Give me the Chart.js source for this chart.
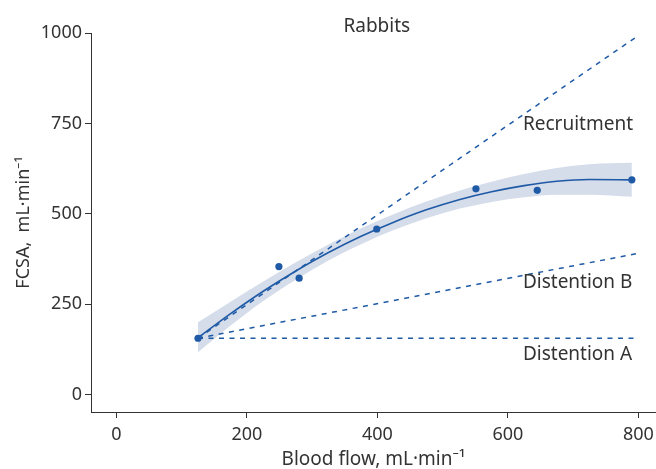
<!DOCTYPE html>
<html>
<head>
<meta charset="utf-8">
<script src="https://cdn.jsdelivr.net/npm/chart.js@4/dist/chart.umd.min.js"></script>
<style>
  html, body { margin: 0; padding: 0; background: #fff; }
  canvas { display: block; }
</style>
</head>
<body>
<canvas id="chart" width="656" height="469"></canvas>
<script>
// measured points (blood flow vs FCSA)
const pointX = [125, 249, 280, 399, 551, 645, 790];
const pointY = [156, 354, 322, 458, 569, 565, 594];

// fitted curve and its confidence band
const fitX = [125, 175, 225, 275, 325, 375, 425, 475, 525, 575, 625, 675, 725, 790];
const fitY = [157, 224, 286, 342, 393, 438, 477, 511, 539, 561, 578, 590, 595, 594];
const bandUpper = [200, 257, 313, 366, 415, 460, 499, 534, 564, 589, 610, 627, 637, 641];
const bandLower = [117, 191, 259, 318, 371, 416, 455, 488, 514, 533, 546, 553, 553, 547];

// model lines
const recruitmentX = [125, 800];
const recruitmentY = [156, 993];
const distentionBX = [125, 800];
const distentionBY = [156, 391];
const distentionAX = [125, 800];
const distentionAY = [156, 156];

const xTicks = [0, 200, 400, 600, 800];
const yTicks = [0, 250, 500, 750, 1000];

const labelTexts = ["Rabbits", "Recruitment", "Distention B", "Distention A"];
const labelX = [399, 623, 623, 623];
const labelY = [1003, 731, 296, 95];
const labelAlign = ["center", "left", "left", "left"];

const blue = "#1f5aa6";
const band = "#d5dcea";
const ink = "#333333";

function pts(xs, ys) {
  return xs.map((x, i) => ({ x, y: ys[i] }));
}

function noPadding(s) {
  s.paddingLeft = 0;
  s.paddingRight = 0;
  s.paddingTop = 0;
  s.paddingBottom = 0;
}

const textLabels = {
  id: "textLabels",
  afterDraw(chart) {
    const { ctx, scales } = chart;
    ctx.save();
    ctx.fillStyle = ink;
    ctx.font = "19px 'Noto Sans', sans-serif";
    ctx.textBaseline = "alphabetic";
    labelTexts.forEach((text, i) => {
      ctx.textAlign = labelAlign[i];
      ctx.fillText(text, scales.x.getPixelForValue(labelX[i]), scales.y.getPixelForValue(labelY[i]));
    });
    ctx.restore();
  },
};

Chart.defaults.font.family = "'Noto Sans', sans-serif";
Chart.defaults.font.size = 18;
Chart.defaults.color = ink;

const dashed = (data) => ({
  data,
  borderColor: blue,
  borderWidth: 1.5,
  borderDash: [5, 5.5],
  pointRadius: 0,
  fill: false,
});

new Chart(document.getElementById("chart"), {
  type: "line",
  data: {
    datasets: [
      { data: pts(pointX, pointY), showLine: false, pointRadius: 3.6, pointBackgroundColor: blue, pointBorderWidth: 0 },
      { data: pts(fitX, fitY), borderColor: blue, borderWidth: 1.6, pointRadius: 0, cubicInterpolationMode: "monotone", fill: false },
      dashed(pts(recruitmentX, recruitmentY)),
      dashed(pts(distentionBX, distentionBY)),
      dashed(pts(distentionAX, distentionAY)),
      { data: pts(fitX, bandUpper), borderWidth: 0, pointRadius: 0, backgroundColor: band, fill: "+1", cubicInterpolationMode: "monotone" },
      { data: pts(fitX, bandLower), borderWidth: 0, pointRadius: 0, fill: false, cubicInterpolationMode: "monotone" },
    ],
  },
  options: {
    responsive: false,
    animation: false,
    layout: { autoPadding: false, padding: { top: 33, right: 0, bottom: 0, left: 0 } },
    plugins: { legend: { display: false }, tooltip: { enabled: false } },
    scales: {
      x: {
        type: "linear",
        min: -39,
        max: 827,
        afterFit: (s) => { s.height = 57; noPadding(s); },
        afterBuildTicks: (s) => { s.ticks = xTicks.map((value) => ({ value })); },
        grid: { drawOnChartArea: false, drawTicks: true, tickLength: 6, color: ink },
        border: { color: ink, width: 1 },
        ticks: { padding: 6, color: ink, maxRotation: 0, callback: (v) => String(v) },
        title: { display: true, text: "Blood flow, mL·min⁻¹", color: ink, font: { size: 19 }, padding: { top: 0, bottom: -2 } },
      },
      y: {
        type: "linear",
        min: -48,
        max: 1000,
        afterFit: (s) => { s.width = 91; noPadding(s); },
        afterBuildTicks: (s) => { s.ticks = yTicks.map((value) => ({ value })); },
        grid: { drawOnChartArea: false, drawTicks: true, tickLength: 6, color: ink },
        border: { color: ink, width: 1 },
        ticks: { padding: 3, color: ink, callback: (v) => String(v) },
        title: { display: true, text: "FCSA,  mL·min⁻¹", color: ink, font: { size: 18 }, padding: { top: 13, bottom: 0 } },
      },
    },
  },
  plugins: [textLabels],
});
</script>
</body>
</html>
